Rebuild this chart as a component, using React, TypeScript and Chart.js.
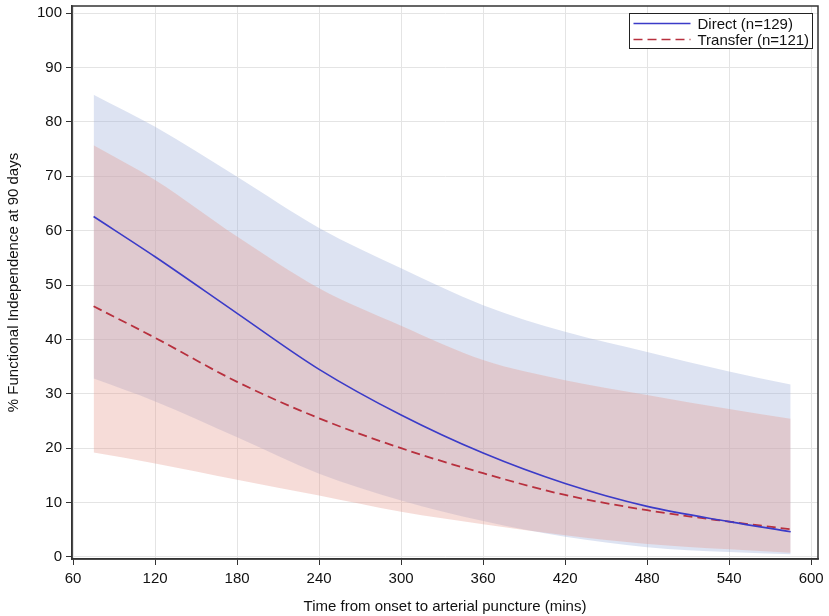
import { useEffect, useRef } from 'react';
import { Chart, registerables } from 'chart.js';

Chart.register(...registerables);

// minutes from onset to arterial puncture
const times = [75, 120, 180, 240, 300, 360, 420, 480, 540, 585];

const directMean = [62.6, 55.2, 44.8, 34.5, 26.1, 19.1, 13.5, 9.3, 6.5, 4.65];
const directUpper = [85, 79.1, 69.9, 60.5, 53.1, 46.3, 41.4, 37.7, 34.1, 31.7];
const directLower = [32.8, 28.6, 22.0, 15.3, 10.4, 6.6, 3.7, 1.8, 0.9, 0.5];

const transferMean = [46.1, 40.3, 32.2, 25.5, 20.0, 15.4, 11.4, 8.6, 6.5, 5.1];
const transferUpper = [75.7, 69.3, 58.9, 49.4, 42.5, 36.2, 32.5, 29.8, 27.2, 25.4];
const transferLower = [19.2, 17.2, 14.2, 11.3, 8.3, 6.0, 4.0, 2.4, 1.4, 0.8];

const xTicks = [60, 120, 180, 240, 300, 360, 420, 480, 540, 600];
const yTicks = [0, 10, 20, 30, 40, 50, 60, 70, 80, 90, 100];

const legendItems = [
  { label: 'Direct (n=129)', color: '#3b3bc8', dash: [] as number[] },
  { label: 'Transfer (n=121)', color: '#b8303e', dash: [9, 5] },
];

const FONT = '"Liberation Sans", Arial, sans-serif';

const pts = (ys: number[]) => times.map((x, i) => ({ x, y: ys[i] }));

// draws the box round the plot and the legend inside the top-right corner
const framePlugin = {
  id: 'frameAndLegend',
  afterDraw(chart: Chart) {
    const { ctx, chartArea: a } = chart;
    ctx.save();
    ctx.strokeStyle = '#333';
    ctx.lineWidth = 1.5;
    ctx.strokeRect(a.left, a.top, a.right - a.left, a.bottom - a.top);

    const boxW = 183;
    const boxH = 35;
    const bx = Math.round(a.right - 6 - boxW) + 0.5;
    const by = Math.round(a.top + 7) + 0.5;
    ctx.fillStyle = '#fff';
    ctx.fillRect(bx, by, boxW, boxH);
    ctx.strokeStyle = '#222';
    ctx.lineWidth = 1;
    ctx.strokeRect(bx, by, boxW, boxH);

    ctx.font = `15px ${FONT}`;
    ctx.textBaseline = 'middle';
    legendItems.forEach((item, i) => {
      const y = by + 10 + i * 16;
      ctx.beginPath();
      ctx.setLineDash(item.dash);
      ctx.strokeStyle = item.color;
      ctx.lineWidth = 1.5;
      ctx.moveTo(bx + 4, y);
      ctx.lineTo(bx + 61, y);
      ctx.stroke();
      ctx.setLineDash([]);
      ctx.fillStyle = '#111';
      ctx.fillText(item.label, bx + 68, y + 1);
    });
    ctx.restore();
  },
};

export default function App() {
  const chartRef = useRef<HTMLCanvasElement>(null);
  const chartInstance = useRef<Chart | null>(null);

  useEffect(() => {
    document.body.style.margin = '0';
    if (!chartRef.current) return;
    if (chartInstance.current) chartInstance.current.destroy();
    const ctx = chartRef.current.getContext('2d');
    if (!ctx) return;

    const band = (ys: number[], color: string, fill: string | boolean, order: number) => ({
      data: pts(ys),
      borderWidth: 0,
      pointRadius: 0,
      backgroundColor: color,
      fill,
      order,
      cubicInterpolationMode: 'monotone' as const,
    });

    chartInstance.current = new Chart(ctx, {
      type: 'line',
      data: {
        datasets: [
          band(directUpper, 'rgba(158,175,218,0.35)', '+1', 3),
          band(directLower, 'rgba(0,0,0,0)', false, 3),
          band(transferUpper, 'rgba(229,155,144,0.35)', '+1', 2),
          band(transferLower, 'rgba(0,0,0,0)', false, 2),
          {
            data: pts(directMean),
            borderColor: legendItems[0].color,
            borderWidth: 1.6,
            pointRadius: 0,
            fill: false,
            order: 0,
            cubicInterpolationMode: 'monotone',
          },
          {
            data: pts(transferMean),
            borderColor: legendItems[1].color,
            borderWidth: 1.8,
            borderDash: legendItems[1].dash,
            pointRadius: 0,
            fill: false,
            order: 1,
            cubicInterpolationMode: 'monotone',
          },
        ],
      },
      options: {
        animation: false,
        responsive: true,
        maintainAspectRatio: false,
        layout: { padding: { top: 6, right: 11, left: 0, bottom: 0 } },
        plugins: {
          legend: { display: false },
          tooltip: { enabled: false },
        },
        scales: {
          x: {
            type: 'linear',
            min: 59.2,
            max: 605,
            afterBuildTicks: (s: any) => {
              s.ticks = xTicks.map(v => ({ value: v }));
            },
            afterFit: (s: any) => {
              s.height = 57;
              s.paddingLeft = 0;
              s.paddingRight = 0;
            },
            grid: { color: '#e4e4e4', tickColor: '#333', tickLength: 6 },
            border: { color: '#333', width: 1.5 },
            ticks: {
              font: { family: FONT, size: 15 },
              color: '#111',
              padding: 5,
              maxRotation: 0,
            },
            title: {
              display: true,
              text: 'Time from onset to arterial puncture (mins)',
              font: { family: FONT, size: 15 },
              color: '#111',
              padding: { top: 2, bottom: 0 },
            },
          },
          y: {
            type: 'linear',
            min: -0.37,
            max: 101.3,
            afterBuildTicks: (s: any) => {
              s.ticks = yTicks.map(v => ({ value: v }));
            },
            afterFit: (s: any) => {
              s.width = 72;
              s.paddingTop = 0;
              s.paddingBottom = 0;
            },
            grid: { color: '#e4e4e4', tickColor: '#333', tickLength: 6 },
            border: { color: '#333', width: 1.5 },
            ticks: {
              font: { family: FONT, size: 15 },
              color: '#111',
              padding: 4,
            },
            title: {
              display: true,
              text: '% Functional Independence at 90 days',
              font: { family: FONT, size: 15 },
              color: '#111',
              padding: { top: 5, bottom: 0 },
            },
          },
        },
      },
      plugins: [framePlugin],
    });

    return () => {
      if (chartInstance.current) {
        chartInstance.current.destroy();
        chartInstance.current = null;
      }
    };
  }, []);

  return (
    <div style={{ width: 829, height: 616, position: 'relative', background: '#fff' }}>
      <canvas ref={chartRef} />
    </div>
  );
}
